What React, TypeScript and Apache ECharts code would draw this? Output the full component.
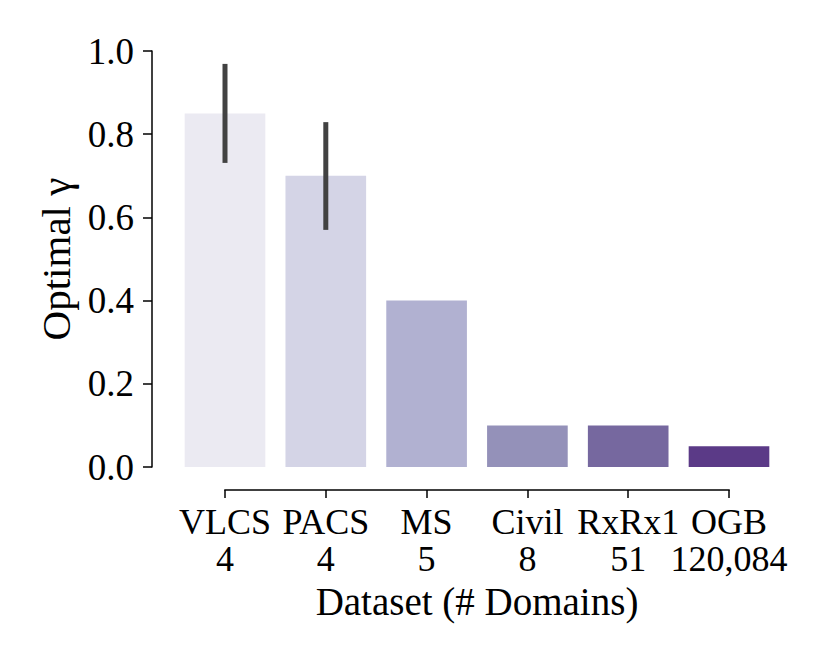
import React, { useEffect, useRef } from "react";
import * as echarts from "echarts";

const categories = ["VLCS", "PACS", "MS", "Civil", "RxRx1", "OGB"];
const domainCounts = ["4", "4", "5", "8", "51", "120,084"];
const gammaValues = [0.85, 0.7, 0.4, 0.1, 0.1, 0.05];
const errorLow = [0.731, 0.57];
const errorHigh = [0.969, 0.829];
const barColors = ["#ebeaf2", "#d4d4e6", "#b1b1d1", "#9491b9", "#76689f", "#5b3a87"];

const FONT = "'Liberation Serif', 'Times New Roman', serif";

export default function App() {
  const ref = useRef<HTMLDivElement>(null);
  useEffect(() => {
    document.body.style.margin = "0";
    const chart = echarts.init(ref.current!, null, { renderer: "svg" });
    const errData = errorLow.map((lo, i) => [i, lo, errorHigh[i]]);
    chart.setOption({
      animation: false,
      grid: { left: 174.6, top: 51, width: 604.8, height: 416, containLabel: false },
      xAxis: {
        type: "category",
        data: categories.map((c, i) => c + "\n" + domainCounts[i]),
        offset: 23,
        axisLine: { show: true, onZero: false, lineStyle: { color: "#000", width: 1, opacity: 0 } },
        axisTick: { show: true, alignWithLabel: true, length: 8, lineStyle: { color: "#000", width: 1.5 } },
        axisLabel: { fontFamily: FONT, fontSize: 36, color: "#000", lineHeight: 37, margin: 13, interval: 0 },
        name: "Dataset (# Domains)",
        nameLocation: "middle",
        nameGap: 92,
        nameTextStyle: { fontFamily: FONT, fontSize: 39, color: "#000" },
      },
      yAxis: {
        type: "value",
        min: 0,
        max: 1,
        interval: 0.2,
        offset: 22.6,
        splitLine: { show: false },
        axisLine: { show: true, lineStyle: { color: "#000", width: 1.5 } },
        axisTick: { show: true, length: 9, lineStyle: { color: "#000", width: 1.5 } },
        axisLabel: {
          fontFamily: FONT,
          fontSize: 37,
          color: "#000",
          margin: 18,
          formatter: (v: number) => v.toFixed(1),
        },
        name: "Optimal γ",
        nameLocation: "middle",
        nameGap: 72,
        nameTextStyle: { fontFamily: FONT, fontSize: 41, color: "#000" },
      },
      series: [
        {
          type: "bar",
          barWidth: "80%",
          data: gammaValues.map((v, i) => ({ value: v, itemStyle: { color: barColors[i] } })),
        },
        {
          type: "custom",
          data: errData,
          renderItem: (params: any, api: any) => {
            const x = api.value(0);
            const p1 = api.coord([x, api.value(1)]);
            const p2 = api.coord([x, api.value(2)]);
            return {
              type: "line",
              shape: { x1: p1[0], y1: p1[1], x2: p2[0], y2: p2[1] },
              style: { stroke: "#424242", lineWidth: 5 },
            };
          },
          z: 5,
        },
      ],
    });
    const a = chart.convertToPixel({ gridIndex: 0 }, [0, 0]) as number[];
    const b = chart.convertToPixel({ gridIndex: 0 }, [categories.length - 1, 0]) as number[];
    const y = a[1] + 23;
    chart.setOption({
      graphic: [
        {
          type: "line",
          shape: { x1: a[0] - 0.75, y1: y, x2: b[0] + 0.75, y2: y },
          style: { stroke: "#000", lineWidth: 1.5 },
        },
      ],
    });
    return () => chart.dispose();
  }, []);
  return <div ref={ref} style={{ width: 830, height: 664 }} />;
}
